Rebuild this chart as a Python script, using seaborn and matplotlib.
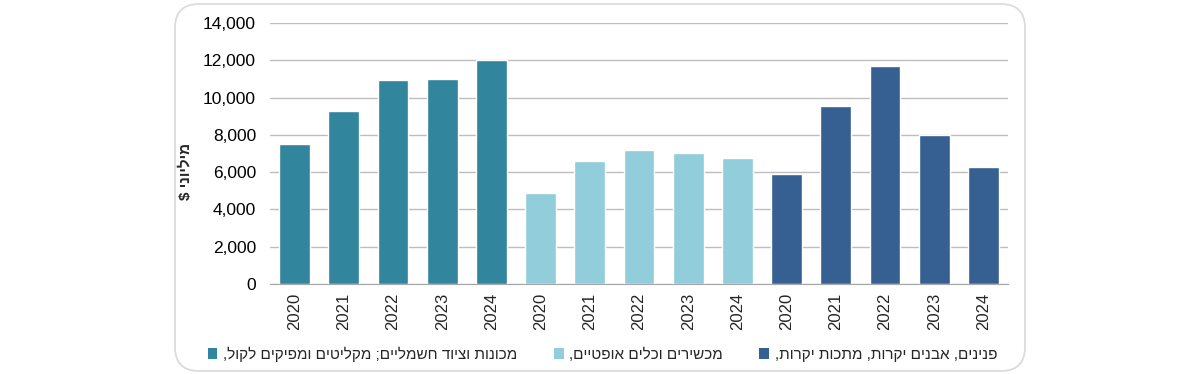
import numpy as np
import pandas as pd
import matplotlib
matplotlib.use("Agg")
import matplotlib.pyplot as plt
import seaborn as sns
from matplotlib.patches import FancyBboxPatch, Patch

# Data (millions of $)
years = ["2020", "2021", "2022", "2023", "2024"]
groups = [
    "מכונות וציוד חשמליים; מקליטים ומפיקים לקול,",
    "מכשירים וכלים אופטיים,",
    "פנינים, אבנים יקרות, מתכות יקרות,",
]
machines = [7500, 9300, 10950, 11000, 12000]
optics = [4900, 6600, 7200, 7000, 6750]
gems = [5900, 9550, 11700, 8000, 6300]
colors = ["#31859C", "#92CDDC", "#366092"]
y_label = "מיליוני $"


def visual(s):
    # matplotlib has no bidi support: reverse RTL text into visual order
    return s[::-1]


rows = []
for g, vals in zip(groups, [machines, optics, gems]):
    for y, v in zip(years, vals):
        rows.append({"slot": f"{g}|{y}", "year": y, "group": g, "value": v})
df = pd.DataFrame(rows)

sns.set_style("white")
plt.rcParams["font.family"] = ["Liberation Sans", "DejaVu Sans"]

fig = plt.figure(figsize=(12, 3.74), dpi=100)
ax = fig.add_axes([0.225, 0.2406, 0.615, 0.698])

sns.barplot(data=df, x="slot", y="value", hue="group", palette=colors,
            dodge=False, width=0.63, saturation=1, ax=ax, legend=False)

ax.set_ylim(0, 14000)
ax.set_xlim(-0.5, len(df) - 0.5)
ax.set_yticks(np.arange(0, 14001, 2000))
ax.set_yticklabels([f"{v:,}" for v in range(0, 14001, 2000)], fontsize=12.5, color="#000000")
ax.yaxis.grid(True, color="#BDBDBD", linewidth=1)
ax.set_axisbelow(True)

ax.set_xticks(range(len(df)))
ax.set_xticklabels(df["year"], rotation=90, fontsize=12)
ax.set_xticks(np.arange(-0.5, len(df), 1), minor=True)
ax.tick_params(axis="x", which="major", length=0, pad=6)
ax.tick_params(axis="x", which="minor", length=5, color="#A6A6A6", width=1, direction="out")
ax.tick_params(axis="y", length=0, pad=10)

for side in ["top", "right", "left"]:
    ax.spines[side].set_visible(False)
ax.spines["bottom"].set_color("#A6A6A6")

ax.set_xlabel("")
ax.set_ylabel(visual(y_label), fontsize=11, fontweight="bold")
ax.yaxis.set_label_coords(-0.104, 0.433)

handles = [Patch(facecolor=c, edgecolor="none") for c in colors]
fig.legend(handles, [visual(g) for g in groups], loc="center",
           bbox_to_anchor=(0.502, 0.053), ncol=3, frameon=False, fontsize=11,
           handlelength=0.65, handleheight=0.65, handletextpad=0.35, columnspacing=2.4)

border = FancyBboxPatch((175 / 1200, 3 / 374), 850 / 1200, 367 / 374,
                        boxstyle="round,pad=0,rounding_size=0.02",
                        transform=fig.transFigure, facecolor="none",
                        edgecolor="#D9D9D9", linewidth=1.2, mutation_aspect=3.2)
fig.patches.append(border)

fig.savefig("out.png", dpi=100)
